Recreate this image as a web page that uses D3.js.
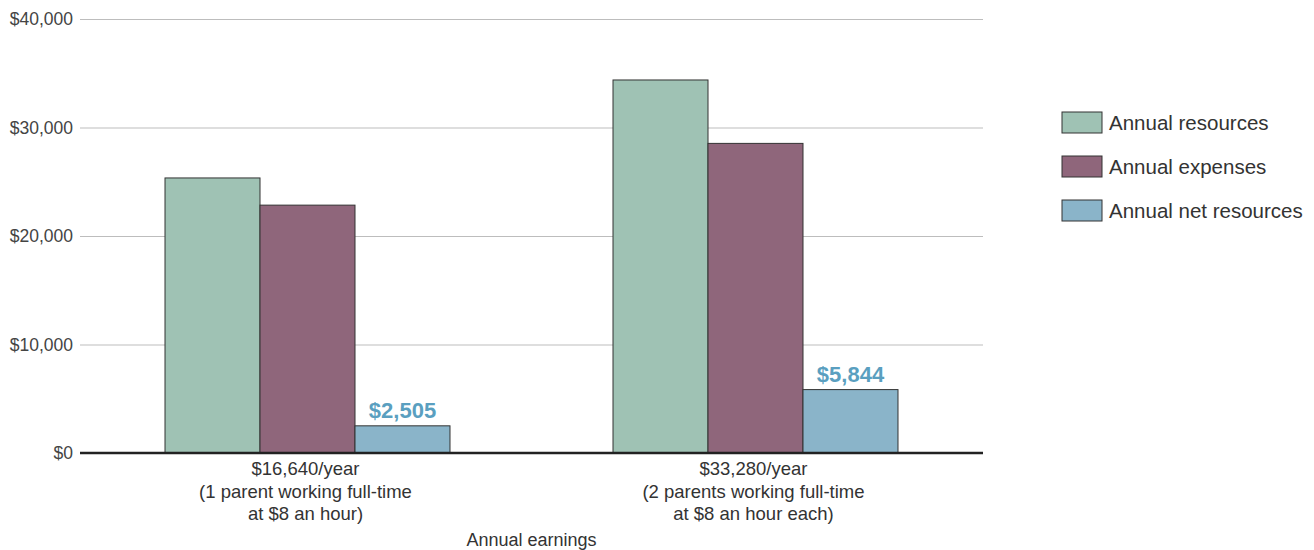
<html>
<head>
<script src="https://d3js.org/d3.v7.min.js"></script>
<style>
  body { margin: 0; background: #fff; }
  text { font-family: "Liberation Sans", Arial, sans-serif; }
</style>
</head>
<body>
<svg width="1314" height="550"></svg>
<script>
// data
const groups = ['g1', 'g2'];
const groupLabels = [
  ['$16,640/year', '(1 parent working full-time', 'at $8 an hour)'],
  ['$33,280/year', '(2 parents working full-time', 'at $8 an hour each)']
];
const series = ['Annual resources', 'Annual expenses', 'Annual net resources'];
const resources = [25350, 34380];
const expenses = [22845, 28536];
const netResources = [2505, 5844];
const yTicks = [0, 10000, 20000, 30000, 40000];
const colors = ['#9fc2b4', '#8f667b', '#8ab4c9'];

const values = [resources, expenses, netResources];

const svg = d3.select('svg');
const mLeft = 80, mRight = 983, mTop = 19, mBottom = 453;

const y = d3.scaleLinear().domain([0, 40000]).range([mBottom, mTop]);
const x0 = d3.scaleBand().domain(groups).range([mLeft + 3.5, mRight - 3.5]).padding(0);
const x1 = d3.scaleBand().domain(series).range([0, x0.bandwidth()]).paddingOuter(0.858).paddingInner(0);

// gridlines + tick labels
const yAxis = svg.append('g')
  .attr('transform', `translate(${mLeft},0)`)
  .call(d3.axisLeft(y).tickValues(yTicks).tickSize(-(mRight - mLeft))
    .tickFormat(d => '$' + d3.format(',')(d)));
yAxis.select('.domain').remove();
yAxis.selectAll('.tick line').attr('stroke', '#bdbdbd').attr('stroke-width', 1.2);
yAxis.selectAll('.tick text')
  .attr('x', -7)
  .attr('fill', '#444')
  .attr('font-size', 17.5)
  .style('font-family', '"Liberation Sans", Arial, sans-serif');

// bars
const g = svg.append('g');
groups.forEach((grp, i) => {
  series.forEach((s, j) => {
    g.append('rect')
      .attr('x', x0(grp) + x1(s))
      .attr('y', y(values[j][i]))
      .attr('width', x1.bandwidth())
      .attr('height', y(0) - y(values[j][i]))
      .attr('fill', colors[j])
      .attr('stroke', '#333')
      .attr('stroke-width', 1);
  });
  // value label on net resources
  const s = series[2];
  g.append('text')
    .attr('x', x0(grp) + x1(s) + x1.bandwidth() / 2)
    .attr('y', y(netResources[i]) - 8)
    .attr('text-anchor', 'middle')
    .attr('font-size', 22)
    .attr('font-weight', 'bold')
    .attr('fill', '#5a9fc0')
    .text('$' + d3.format(',')(netResources[i]));
});

// baseline
svg.append('line')
  .attr('x1', mLeft).attr('x2', mRight)
  .attr('y1', y(0)).attr('y2', y(0))
  .attr('stroke', '#222').attr('stroke-width', 2.5);

// category labels
groups.forEach((grp, i) => {
  const t = svg.append('text')
    .attr('x', x0(grp) + x0.bandwidth() / 2 - 2)
    .attr('y', 475)
    .attr('text-anchor', 'middle')
    .attr('font-size', 18.5)
    .attr('fill', '#333');
  groupLabels[i].forEach((line, k) => {
    t.append('tspan')
      .attr('x', x0(grp) + x0.bandwidth() / 2 - 2)
      .attr('dy', k == 0 ? 0 : 22.5)
      .text(line);
  });
});

svg.append('text')
  .attr('x', (mLeft + mRight) / 2)
  .attr('y', 546)
  .attr('text-anchor', 'middle')
  .attr('font-size', 18)
  .attr('fill', '#333')
  .text('Annual earnings');

// legend
const legend = svg.append('g').attr('transform', 'translate(1062,112)');
series.forEach((s, j) => {
  legend.append('rect')
    .attr('x', 0).attr('y', j * 44)
    .attr('width', 40).attr('height', 21)
    .attr('fill', colors[j]).attr('stroke', '#333').attr('stroke-width', 1);
  legend.append('text')
    .attr('x', 47).attr('y', j * 44 + 18)
    .attr('font-size', 20.5)
    .attr('fill', '#333')
    .text(s);
});
</script>
</body>
</html>
